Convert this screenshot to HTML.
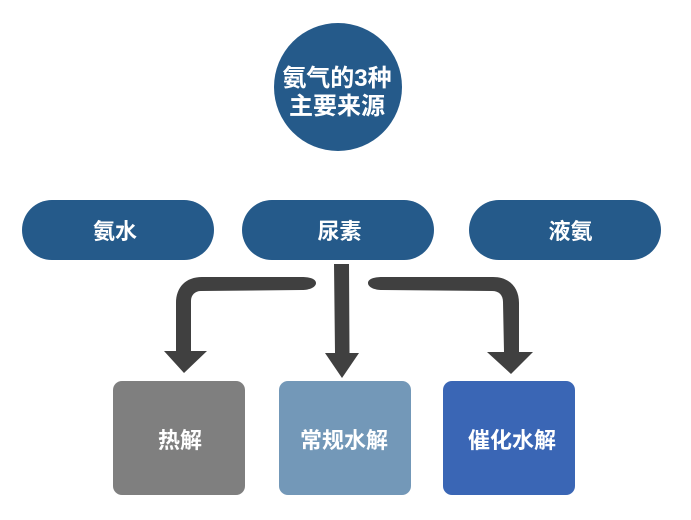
<!DOCTYPE html>
<html><head><meta charset="utf-8"><style>
html,body{margin:0;padding:0;background:#fff}
body{width:691px;height:520px;position:relative;overflow:hidden;font-family:"Liberation Sans","Noto Sans CJK SC",sans-serif;font-weight:bold;color:#fff}
.s{position:absolute;display:flex;align-items:center;justify-content:center;box-sizing:border-box}
.s span{position:relative;display:block}
.p{top:200px;width:192px;height:60px;border-radius:30px;background:#255a8a;font-size:22px}
.b{top:381px;width:132px;height:114px;border-radius:9px;font-size:22px}
svg{position:absolute;left:0;top:0}
</style></head><body>
<div class="s" style="left:274px;top:23px;width:128px;height:128px;border-radius:50%;background:#255a8a;font-size:24px;line-height:28px;text-align:center"><span style="left:-1px;top:6px">氨气的3种<br>主要来源</span></div>
<div class="s p" style="left:22px"><span style="left:-3px">氨水</span></div>
<div class="s p" style="left:242px"><span style="left:1.500px">尿素</span></div>
<div class="s p" style="left:469px"><span style="left:5.500px">液氨</span></div>
<svg width="691" height="520" viewBox="0 0 691 520">
<path fill="#404040" d="M316 283C316 279 310 277 302 277L202 277C186 277 176 287 176 303L176 351L164 351L184 373L207 351L191 351L191 301C191 295 195 291 201 291L302 290C310 290 316 287 316 283Z"/>
<path fill="#404040" d="M334 264L349 264L349.500 353L359 353L342 378L325 353L335 353Z"/>
<path fill="#404040" d="M368 283C368 279 374 277 382 277L493 277C509 277 519 287 519 303L519 352L533 352L511 374L487 352L504 352L503 302C503 295 499 291 492 291L382 290C374 290 368 287 368 283Z"/>
</svg>
<div class="s b" style="left:113px;background:#7f7f7f"><span style="left:1px;top:1px">热解</span></div>
<div class="s b" style="left:279px;background:#7398b8"><span style="left:-1px;top:1px">常规水解</span></div>
<div class="s b" style="left:443px;background:#3a66b5"><span style="left:3px;top:1px">催化水解</span></div>
</body></html>
